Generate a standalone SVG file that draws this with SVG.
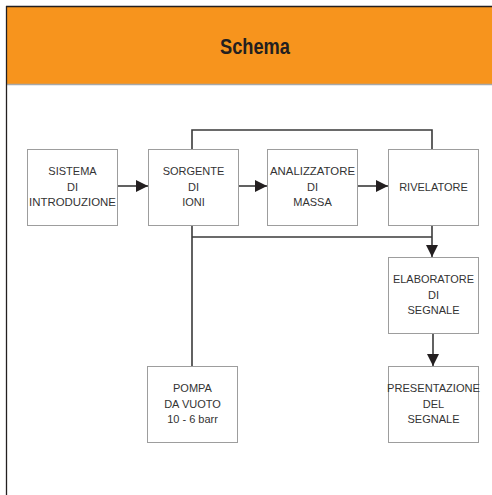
<svg xmlns="http://www.w3.org/2000/svg" width="492" height="495" viewBox="0 0 492 495">
  <defs>
    <marker id="arr" viewBox="0 0 12 12" refX="12" refY="6" markerWidth="12" markerHeight="12" markerUnits="userSpaceOnUse" orient="auto">
      <path d="M0,0 L12,6 L0,12 Z" fill="#231f20"/>
    </marker>
    <style>
      .box { fill: #ffffff; stroke: #9d9d9d; stroke-width: 1; }
      .lbl { font-family: "Liberation Sans", Arial, sans-serif; font-size: 11px; fill: #333333; text-anchor: middle; }
      .con { fill: none; stroke: #3a3a3a; stroke-width: 1.6; }
      .title { font-family: "Liberation Sans", Arial, sans-serif; font-size: 22px; font-weight: bold; fill: #231f20; text-anchor: middle; }
    </style>
  </defs>
  <rect x="0" y="0" width="492" height="495" fill="#ffffff"/>
  <g id="header">
    <rect x="6" y="6.5" width="486" height="78" fill="#f7941d"/>
    <line x1="6" y1="84.5" x2="492" y2="84.5" stroke="#a8a8a8" stroke-width="1.5"/>
    <line x1="6" y1="6.5" x2="492" y2="6.5" stroke="#231f20" stroke-width="1.3"/>
    <line x1="6.5" y1="6" x2="6.5" y2="495" stroke="#231f20" stroke-width="1.3"/>
    <text class="title" x="255" y="54" textLength="70" lengthAdjust="spacingAndGlyphs">Schema</text>
  </g>
  <g id="connectors">
    <line class="con" x1="117" y1="186" x2="148" y2="186" marker-end="url(#arr)"/>
    <line class="con" x1="238" y1="186" x2="267" y2="186" marker-end="url(#arr)"/>
    <line class="con" x1="358" y1="186" x2="388" y2="186" marker-end="url(#arr)"/>
    <polyline class="con" points="192,149 192,130 432,130 432,149"/>
    <polyline class="con" points="192,225 192,366"/>
    <polyline class="con" points="192,237 432,237"/>
    <line class="con" x1="432" y1="225" x2="432" y2="257" marker-end="url(#arr)"/>
    <line class="con" x1="433" y1="333" x2="433" y2="366" marker-end="url(#arr)"/>
  </g>
  <g id="sistema">
    <rect class="box" x="27.5" y="149.5" width="90" height="76"/>
    <text class="lbl" x="72.5" y="175">SISTEMA</text>
    <text class="lbl" x="72.5" y="190.5">DI</text>
    <text class="lbl" x="72.5" y="206" textLength="87" lengthAdjust="spacingAndGlyphs">INTRODUZIONE</text>
  </g>
  <g id="sorgente">
    <rect class="box" x="148.5" y="149.5" width="90" height="76"/>
    <text class="lbl" x="193.5" y="175">SORGENTE</text>
    <text class="lbl" x="193.5" y="190.5">DI</text>
    <text class="lbl" x="193.5" y="206">IONI</text>
  </g>
  <g id="analizzatore">
    <rect class="box" x="267.5" y="149.5" width="90" height="76"/>
    <text class="lbl" x="312.5" y="175" textLength="85" lengthAdjust="spacingAndGlyphs">ANALIZZATORE</text>
    <text class="lbl" x="312.5" y="190.5">DI</text>
    <text class="lbl" x="312.5" y="206">MASSA</text>
  </g>
  <g id="rivelatore">
    <rect class="box" x="388.5" y="149.5" width="90" height="76"/>
    <text class="lbl" x="433.5" y="190.5">RIVELATORE</text>
  </g>
  <g id="elaboratore">
    <rect class="box" x="388.5" y="257.5" width="90" height="76"/>
    <text class="lbl" x="433.5" y="283" textLength="81" lengthAdjust="spacingAndGlyphs">ELABORATORE</text>
    <text class="lbl" x="433.5" y="298.5">DI</text>
    <text class="lbl" x="433.5" y="314">SEGNALE</text>
  </g>
  <g id="presentazione">
    <rect class="box" x="388.5" y="366.5" width="90" height="76"/>
    <text class="lbl" x="433.5" y="392" textLength="93" lengthAdjust="spacingAndGlyphs">PRESENTAZIONE</text>
    <text class="lbl" x="433.5" y="407.5">DEL</text>
    <text class="lbl" x="433.5" y="423">SEGNALE</text>
  </g>
  <g id="pompa">
    <rect class="box" x="147.5" y="366.5" width="90" height="76"/>
    <text class="lbl" x="192.5" y="392">POMPA</text>
    <text class="lbl" x="192.5" y="407.5">DA VUOTO</text>
    <text class="lbl" x="192.5" y="423">10 - 6 barr</text>
  </g>
</svg>
